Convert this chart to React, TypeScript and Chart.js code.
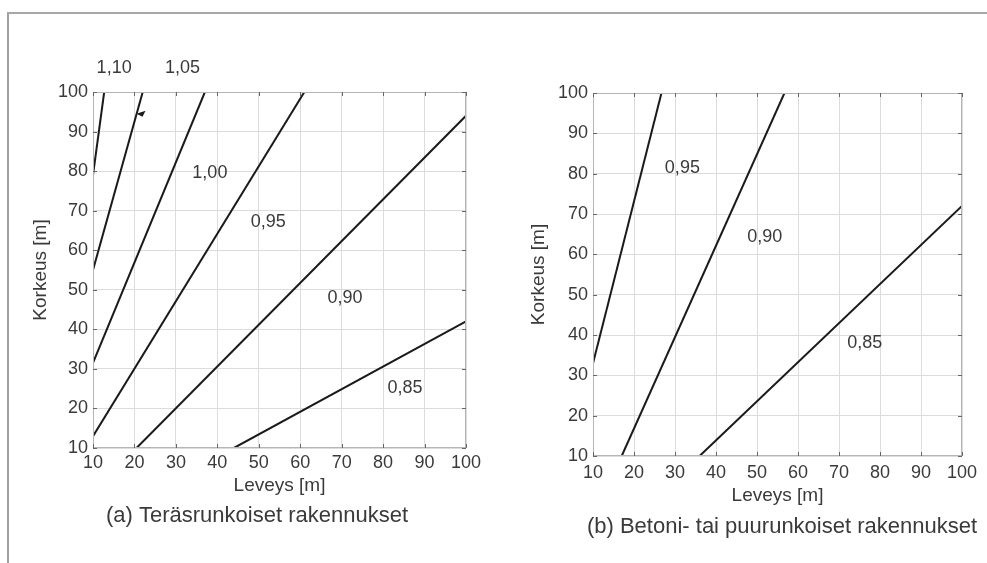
import React, { useEffect, useRef } from 'react';
import { Chart, registerables } from 'chart.js';

Chart.register(...registerables);

// ---- shared axis ticks ----
const xTickValues = [10, 20, 30, 40, 50, 60, 70, 80, 90, 100];
const yTickValues = [10, 20, 30, 40, 50, 60, 70, 80, 90, 100];

// ---- (a) steel-framed buildings ----
const steelLevels = ['1,10', '1,05', '1,00', '0,95', '0,90', '0,85'];
const steelStartX = [10, 10, 10, 10, 20.5, 44];
const steelStartY = [79, 55, 31.5, 13, 10, 10];
const steelEndX = [12.7, 22, 37, 61, 100, 100];
const steelEndY = [100, 100, 100, 100, 94, 42];
const steelLabelX = [15.1, 31.6, 38.2, 52.3, 70.8, 85.3];
const steelLabelY = [106, 106, 79.4, 67.2, 47.9, 25.1];
const steelArrow = { x: 20.5, y: 94.5 };
const steelCaption = '(a) Teräsrunkoiset rakennukset';

// ---- (b) concrete- or timber-framed buildings ----
const concreteLevels = ['0,95', '0,90', '0,85'];
const concreteStartX = [10, 17, 36];
const concreteStartY = [33, 10, 10];
const concreteEndX = [26.7, 56.7, 100];
const concreteEndY = [100, 100, 72];
const concreteLabelX = [31.8, 51.9, 76.3];
const concreteLabelY = [81.3, 64.4, 37.9];
const concreteCaption = '(b) Betoni- tai puurunkoiset rakennukset';

const xTitle = 'Leveys [m]';
const yTitle = 'Korkeus [m]';

const FONT = "'Liberation Sans', Arial, sans-serif";
const TEXT = '#3a3a3a';

type Panel = {
  levels: string[];
  startX: number[];
  startY: number[];
  endX: number[];
  endY: number[];
  labelX: number[];
  labelY: number[];
  arrow?: { x: number; y: number };
  caption: string;
  captionX: number;
  captionY: number;
  padTop: number;
  padRight: number;
  yAxisWidth: number;
  xAxisHeight: number;
  xTitlePad: number;
  yTitlePad: number;
  xTickPad: number;
};

function decorPlugin(p: Panel) {
  return {
    id: 'decor',
    afterDatasetsDraw(chart: any) {
      const { ctx, chartArea: a, scales } = chart;
      const xs = scales.x;
      const ys = scales.y;
      ctx.save();
      // axes box
      ctx.strokeStyle = '#b5b5b5';
      ctx.lineWidth = 1;
      ctx.strokeRect(a.left + 0.5, a.top + 0.5, a.right - a.left - 1, a.bottom - a.top - 1);
      // inward tick marks
      ctx.strokeStyle = '#666';
      ctx.beginPath();
      xTickValues.forEach((v) => {
        const px = Math.round(xs.getPixelForValue(v)) + 0.5;
        ctx.moveTo(px, a.bottom);
        ctx.lineTo(px, a.bottom - 4);
        ctx.moveTo(px, a.top);
        ctx.lineTo(px, a.top + 4);
      });
      yTickValues.forEach((v) => {
        const py = Math.round(ys.getPixelForValue(v)) + 0.5;
        ctx.moveTo(a.left, py);
        ctx.lineTo(a.left + 4, py);
        ctx.moveTo(a.right, py);
        ctx.lineTo(a.right - 4, py);
      });
      ctx.stroke();
      // curve labels
      ctx.fillStyle = TEXT;
      ctx.font = `18px ${FONT}`;
      ctx.textAlign = 'center';
      ctx.textBaseline = 'middle';
      p.levels.forEach((lab, i) => {
        ctx.fillText(lab, xs.getPixelForValue(p.labelX[i]), ys.getPixelForValue(p.labelY[i]));
      });
      // arrow head
      if (p.arrow) {
        const tx = xs.getPixelForValue(p.arrow.x);
        const ty = ys.getPixelForValue(p.arrow.y);
        ctx.fillStyle = '#1a1a1a';
        ctx.beginPath();
        ctx.moveTo(tx, ty);
        ctx.lineTo(tx + 9, ty - 3);
        ctx.lineTo(tx + 6, ty + 3);
        ctx.closePath();
        ctx.fill();
      }
      // caption
      ctx.fillStyle = TEXT;
      ctx.font = `22px ${FONT}`;
      ctx.fillText(p.caption, p.captionX, p.captionY);
      ctx.restore();
    },
  };
}

function buildChart(canvas: HTMLCanvasElement, p: Panel) {
  const datasets = p.startX.map((sx, i) => ({
    label: p.levels[i],
    data: [
      { x: sx, y: p.startY[i] },
      { x: p.endX[i], y: p.endY[i] },
    ],
    showLine: true,
    borderColor: '#1a1a1a',
    backgroundColor: '#1a1a1a',
    borderWidth: 2,
    pointRadius: 0,
    fill: false,
  }));
  const tickFont = { family: FONT, size: 18 };
  return new Chart(canvas, {
    type: 'scatter',
    data: { datasets },
    plugins: [decorPlugin(p)],
    options: {
      responsive: false,
      animation: false,
      devicePixelRatio: 1,
      layout: { padding: { left: 0, right: p.padRight, top: p.padTop, bottom: 0 } },
      plugins: { legend: { display: false }, tooltip: { enabled: false }, title: { display: false } },
      scales: {
        x: {
          type: 'linear',
          min: 10,
          max: 100,
          afterBuildTicks: (s: any) => {
            s.ticks = xTickValues.map((v) => ({ value: v }));
          },
          afterFit: (s: any) => {
            s.height = p.xAxisHeight;
          },
          ticks: { font: tickFont, color: TEXT, padding: p.xTickPad, maxRotation: 0, autoSkip: false },
          grid: { color: '#dcdcdc', drawTicks: false },
          border: { display: false },
          title: {
            display: true,
            text: xTitle,
            color: TEXT,
            font: { family: FONT, size: 19 },
            padding: { top: 0, bottom: p.xTitlePad },
          },
        },
        y: {
          type: 'linear',
          min: 10,
          max: 100,
          afterBuildTicks: (s: any) => {
            s.ticks = yTickValues.map((v) => ({ value: v }));
          },
          afterFit: (s: any) => {
            s.width = p.yAxisWidth;
          },
          ticks: { font: tickFont, color: TEXT, padding: 5, autoSkip: false },
          grid: { color: '#dcdcdc', drawTicks: false },
          border: { display: false },
          title: {
            display: true,
            text: yTitle,
            color: TEXT,
            font: { family: FONT, size: 19 },
            padding: { top: p.yTitlePad, bottom: 0 },
          },
        },
      },
    },
  } as any);
}

const steelPanel: Panel = {
  levels: steelLevels,
  startX: steelStartX,
  startY: steelStartY,
  endX: steelEndX,
  endY: steelEndY,
  labelX: steelLabelX,
  labelY: steelLabelY,
  arrow: steelArrow,
  caption: steelCaption,
  captionX: 257,
  captionY: 516,
  padTop: 92,
  padRight: 24,
  yAxisWidth: 93,
  xAxisHeight: 115,
  xTitlePad: 66,
  yTitlePad: 29,
  xTickPad: 4,
};

const concretePanel: Panel = {
  levels: concreteLevels,
  startX: concreteStartX,
  startY: concreteStartY,
  endX: concreteEndX,
  endY: concreteEndY,
  labelX: concreteLabelX,
  labelY: concreteLabelY,
  caption: concreteCaption,
  captionX: 282,
  captionY: 527,
  padTop: 93,
  padRight: 25,
  yAxisWidth: 93,
  xAxisHeight: 107,
  xTitlePad: 56,
  yTitlePad: 27,
  xTickPad: 6,
};

function PanelChart({ panel, left, width }: { panel: Panel; left: number; width: number }) {
  const ref = useRef<HTMLCanvasElement | null>(null);
  useEffect(() => {
    if (!ref.current) return;
    const c = buildChart(ref.current, panel);
    return () => c.destroy();
  }, [panel]);
  return (
    <canvas
      ref={ref}
      width={width}
      height={563}
      style={{ position: 'absolute', left, top: 0, width, height: 563 }}
    />
  );
}

export default function App() {
  return (
    <div
      style={{
        position: 'absolute',
        left: 0,
        top: 0,
        width: 987,
        height: 563,
        background: '#ffffff',
        overflow: 'hidden',
      }}
    >
      <div
        style={{
          position: 'absolute',
          left: 7,
          top: 12,
          width: 990,
          height: 560,
          borderTop: '2px solid #a8a8a8',
          borderLeft: '2px solid #a0a0a0',
        }}
      />
      <PanelChart panel={steelPanel} left={0} width={490} />
      <PanelChart panel={concretePanel} left={500} width={487} />
    </div>
  );
}
